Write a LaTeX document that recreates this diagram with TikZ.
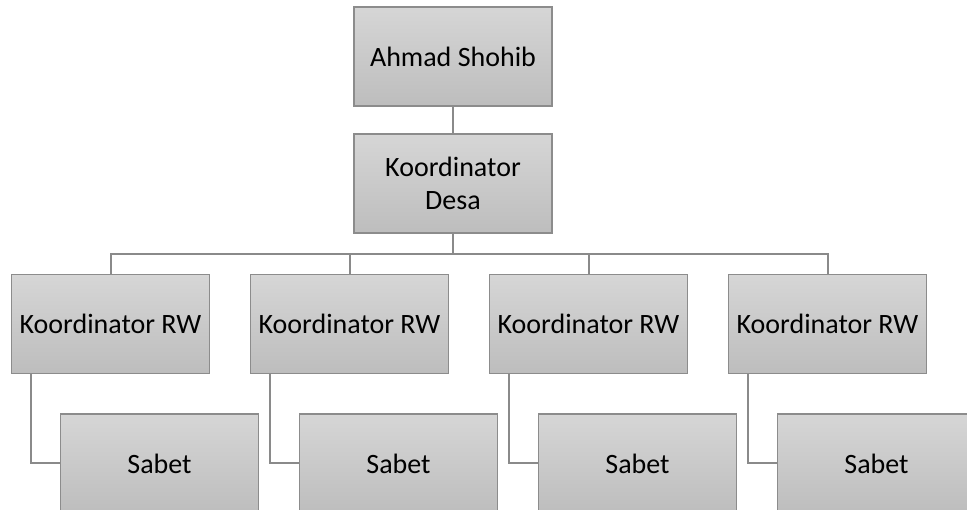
\documentclass[tikz,border=0pt]{standalone}
\usepackage{fontspec}
\setmainfont{Carlito}
\begin{document}
\begin{tikzpicture}[x=1pt,y=1pt,
  orgbox/.style={draw=boxline, line width=1.3pt, top color=boxtop, bottom color=boxbot,
    minimum width=198pt, minimum height=99pt, inner sep=0pt, align=center,
    font=\fontsize{28}{33}\selectfont},
  link/.style={draw=linkcol, line width=2pt}]
\definecolor{boxline}{HTML}{8C8C8C}
\definecolor{boxtop}{HTML}{D6D6D6}
\definecolor{boxbot}{HTML}{BDBDBD}
\definecolor{linkcol}{HTML}{8A8A8A}
\useasboundingbox (0,0) rectangle (967,510);
\clip (0,0) rectangle (967,510);
\node[orgbox] (top) at (453,453.5) {Ahmad Shohib};
\node[orgbox] (desa) at (453,326.5) {Koordinator\\Desa};
\coordinate (bus) at (453,256);
\foreach \i/\x in {1/110.5,2/349.5,3/588.5,4/827.5}{
  \node[orgbox] (rw\i) at (\x,186) {Koordinator RW};
  \node[orgbox] (sab\i) at (\x+49,46.5) {Sabet};
}
\draw[link] (top.south) -- (desa.north);
\draw[link] (desa.south) -- (bus);
\foreach \i in {1,...,4}{
  \draw[link] (bus) -| (rw\i.north);
  \draw[link] ([xshift=20pt]rw\i.south west) |- (sab\i.west);
}
\end{tikzpicture}
\end{document}
